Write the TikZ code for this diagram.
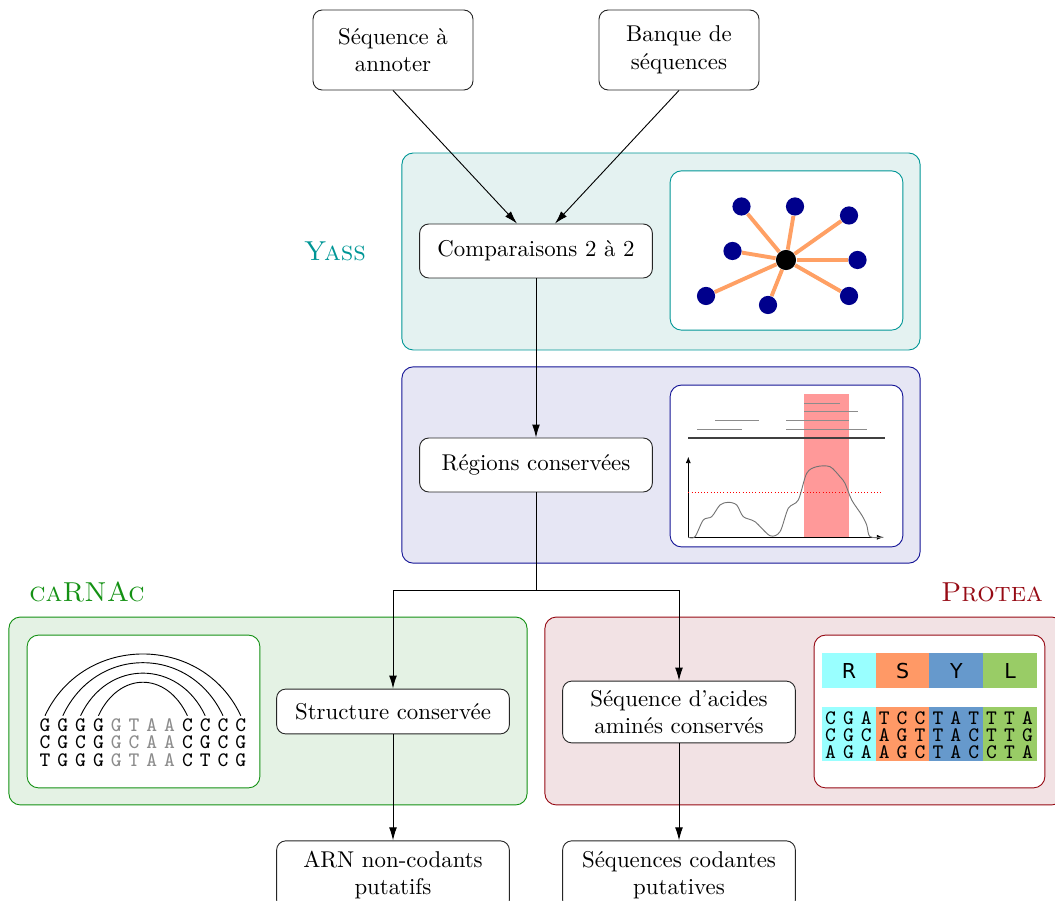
\documentclass[tikz,border=0pt]{standalone}
\usepackage{fontspec}
\newfontfamily\aafont{DejaVu Sans}
\usetikzlibrary{arrows.meta,positioning,calc}

\definecolor{yassline}{RGB}{0,150,150}
\definecolor{yassfill}{RGB}{228,242,241}
\definecolor{regline}{RGB}{20,20,150}
\definecolor{regfill}{RGB}{230,230,244}
\definecolor{carnacline}{RGB}{20,145,20}
\definecolor{carnacfill}{RGB}{228,242,228}
\definecolor{protealine}{RGB}{150,10,20}
\definecolor{proteafill}{RGB}{242,226,228}
\definecolor{edgeorange}{RGB}{255,160,100}
\definecolor{nodeblue}{RGB}{0,0,140}
\definecolor{aacyan}{RGB}{153,255,255}
\definecolor{aaorange}{RGB}{255,153,102}
\definecolor{aablue}{RGB}{102,153,204}
\definecolor{aagreen}{RGB}{153,204,102}

\begin{document}
\begin{tikzpicture}[
    x=0.015385cm, y=0.015385cm,
    box/.style={draw=black!85, rounded corners=4pt, fill=white, align=center,
        minimum width=3.58cm, inner sep=2pt},
    panel/.style={rounded corners=5pt, minimum width=7.97cm, inner sep=0pt},
    inset/.style={fill=white, rounded corners=5pt, minimum width=3.58cm, inner sep=0pt},
    tool/.style={font=\large\scshape},
    arrow/.style={-{Latex[length=2mm,width=1.2mm]}},
    base/.style={font=\ttfamily\small, inner sep=1pt},
    leaf/.style={circle, fill=nodeblue, minimum size=0.28cm, inner sep=0pt},
    hub/.style={circle, fill=black, minimum size=0.31cm, inner sep=0pt},
    link/.style={draw=edgeorange, line width=1.7pt}
]
\useasboundingbox (0,0) rectangle (1055,-901);

% tool panels
\node[panel, draw=yassline, fill=yassfill, minimum height=3.03cm] (yass) at (661,-251.5) {};
\node[panel, draw=regline, fill=regfill, minimum height=3.02cm] (regpanel) at (661,-465) {};
\node[panel, draw=carnacline, fill=carnacfill, minimum height=2.89cm] (carnac) at (268,-711) {};
\node[panel, draw=protealine, fill=proteafill, minimum height=2.89cm] (protea) at (804,-711) {};

\node[tool, text=yassline] (yasslabel) at (335,-251) {Yass};
\node[tool, text=carnacline] (carnaclabel) at (87,-592) {caRNAc};
\node[tool, text=protealine] (protealabel) at (992,-592) {Protea};

\node[inset, draw=yassline, minimum height=2.45cm] (graphbox) at (786.5,-250.5) {};
\node[inset, draw=regline, minimum height=2.49cm] (plotbox) at (786.5,-466) {};
\node[inset, draw=carnacline, minimum height=2.35cm] (rnabox) at (143.5,-711.5) {};
\node[inset, draw=protealine, minimum height=2.35cm, minimum width=3.55cm] (protbox) at (929.5,-711.5) {};

% pipeline
\node[box, minimum width=2.46cm, minimum height=1.23cm] (query) at (393,-50) {Séquence à\\annoter};
\node[box, minimum width=2.46cm, minimum height=1.23cm] (bank) at (679,-50) {Banque de\\séquences};
\node[box, minimum height=0.83cm] (pairwise) at (536,-251) {Comparaisons 2 à 2};
\node[box, minimum height=0.83cm] (regions) at (536,-465) {Régions conservées};
\node[box, minimum height=0.69cm] (structure) at (393,-711.5) {Structure conservée};
\node[box, minimum height=0.95cm] (aminos) at (679,-712) {Séquence d'acides\\aminés conservés};
\node[box, minimum height=1.05cm] (ncrna) at (393,-875) {ARN non-codants\\putatifs};
\node[box, minimum height=1.05cm] (coding) at (679,-875) {Séquences codantes\\putatives};

\coordinate (split) at (536,-590);

\draw[arrow] (query.south) -- ($(pairwise.north)+(-19,0)$);
\draw[arrow] (bank.south) -- ($(pairwise.north)+(19,0)$);
\draw[arrow] (pairwise) -- (regions);
\draw (regions.south) -- (split);
\draw[arrow] (split) -| (structure.north);
\draw[arrow] (split) -| (aminos.north);
\draw[arrow] (structure) -- (ncrna);
\draw[arrow] (aminos) -- (coding);

% star of hits
\node[hub] (hub) at (786,-260) {};
\foreach \x/\y [count=\i] in {741.5/-206.5, 795/-206.5, 849/-215.5, 732.5/-251,
    857.5/-260, 706/-296, 768/-305, 849/-296} {
  \node[leaf] (leaf\i) at (\x,\y) {};
  \draw[link] (hub) -- (leaf\i);
}

% coverage plot
\fill[red!40] (804,-394) rectangle (849,-537);
\draw[black!45, line width=0.6pt] (804,-403.3) -- (840,-403.3)
    (804,-411.7) -- (857.7,-411.7)
    (715,-420.7) -- (759.3,-420.7) (786,-420.7) -- (849,-420.7)
    (697,-429.7) -- (741.7,-429.7) (786,-429.7) -- (866.7,-429.7);
\draw[black!75, line width=0.7pt] (688,-438.3) -- (885,-438.3);
\draw[-{Latex[length=1mm,width=0.8mm]}] (688.3,-537.3) -- (688.3,-456.7);
\draw[-{Latex[length=1mm,width=0.8mm]}] (688.3,-537.3) -- (883.3,-537.3);
\draw[red, densely dotted] (688.3,-492.3) -- (883,-492.3);
\draw[black!55] plot[smooth] coordinates {(688.3,-537.3) (695,-536.7) (703.3,-520)
    (711.7,-516.7) (720,-505) (728.3,-502.3) (736.7,-505) (743.3,-516.7)
    (755,-521.7) (770,-535.7) (780,-531.7) (788.3,-508.3) (798.3,-500)
    (806.7,-473.3) (816.7,-466.7) (830,-466.7) (840,-476.7) (845,-483.3)
    (851.7,-500) (861.7,-515) (866.7,-525) (870,-536.7) (883.3,-537.3)};

% RNA alignment
\foreach \seq [count=\r] in {{G,G,G,G,G,T,A,A,C,C,C,C},{C,G,C,G,G,C,A,A,C,G,C,G},
    {T,G,G,G,G,T,A,A,C,T,C,G}}
  \foreach \b [count=\c] in \seq {
    \ifnum\c>4 \ifnum\c<9 \def\shade{black!45}\else\def\shade{black}\fi\else\def\shade{black}\fi
    \node[base, text=\shade] (n\r-\c) at ({45+(\c-1)*17.8},{-725-(\r-1)*17.5}) {\b};
  }
\foreach \i/\j/\l in {1/12/1.19, 2/11/1.25, 3/10/1.29, 4/9/1.42}
  \draw (n1-\i.north) to[out=65, in=115, looseness=\l] (n1-\j.north);

% protein alignment
\foreach \aa/\col [count=\i] in {R/aacyan, S/aaorange, Y/aablue, L/aagreen} {
  \node[fill=\col, minimum width=0.83cm, minimum height=0.54cm, inner sep=0pt,
      font=\aafont\small] (aa\i) at ({849+(\i-1)*53.7},-670.8) {\aa};
  \node[fill=\col, minimum width=0.83cm, minimum height=0.835cm, inner sep=0pt]
      (codon\i) at ({849+(\i-1)*53.7},-733.8) {};
}
\foreach \seq [count=\r] in {{C,G,A,T,C,C,T,A,T,T,T,A},{C,G,C,A,G,T,T,A,C,T,T,G},
    {A,G,A,A,G,C,T,A,C,C,T,A}}
  \foreach \b [count=\c] in \seq
    \node[base, inner sep=0pt] (p\r-\c) at ({830.5+(\c-1)*17.9},{-718.5-(\r-1)*17}) {\b};

\end{tikzpicture}
\end{document}
